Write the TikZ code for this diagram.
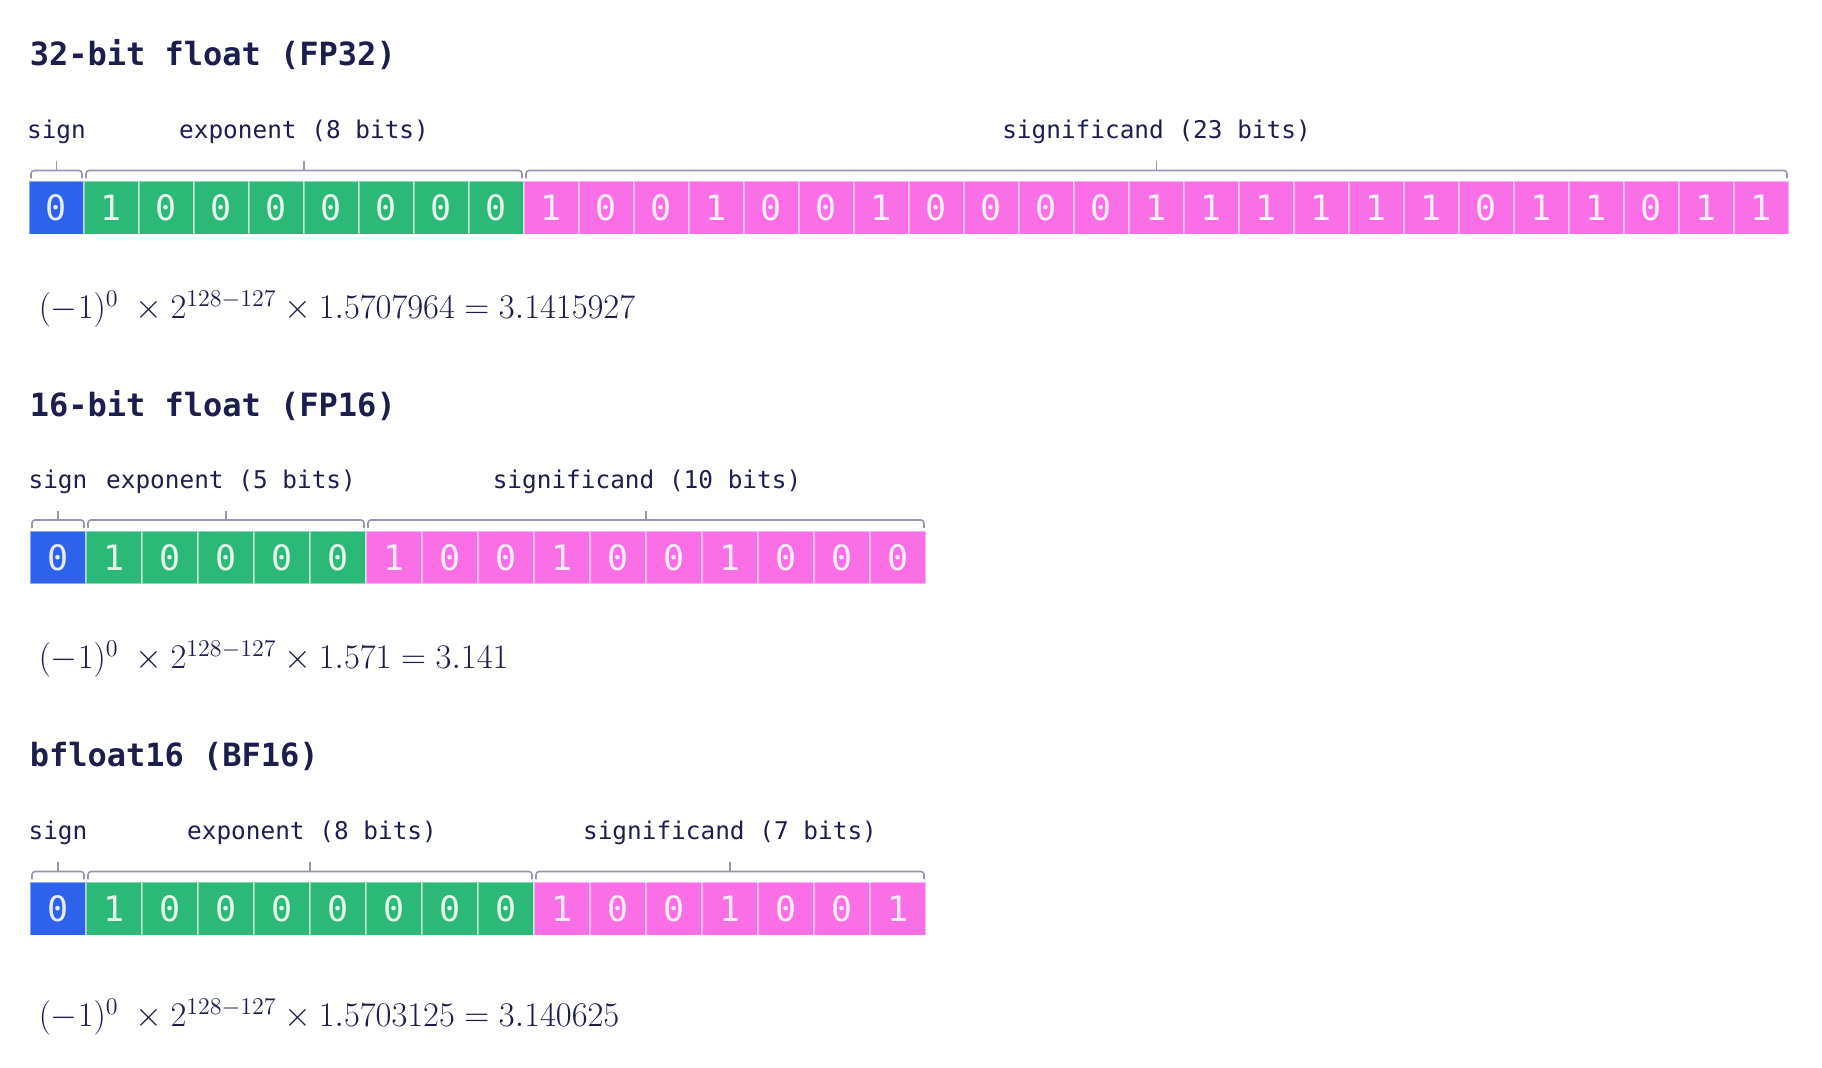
\documentclass[tikz,border=0pt]{standalone}
\usepackage{fontspec}
\usetikzlibrary{calc}
\newfontfamily\bitsfont{DejaVu Sans Mono}

\definecolor{signblue}{RGB}{46,98,235}
\definecolor{expgreen}{RGB}{44,184,118}
\definecolor{mantpink}{RGB}{250,110,230}
\definecolor{ink}{RGB}{28,30,78}
\definecolor{brkgray}{RGB}{150,152,178}

\tikzset{every picture/.style={line width=0.75pt}}
\tikzset{
  bit/.style={minimum width=28pt, minimum height=26.5pt, inner sep=0pt, outer sep=0pt, draw=white, draw opacity=0.45, line width=0.6pt, text=white, text opacity=0.88, font=\bitsfont\fontsize{17.5}{20}\selectfont},
  sgn/.style={bit, fill=signblue},
  expo/.style={bit, fill=expgreen},
  mant/.style={bit, fill=mantpink},
  brk/.style={draw=brkgray, line width=0.8pt, rounded corners=1.5pt},
  title/.style={anchor=west, inner sep=0pt, text=ink, font=\bitsfont\bfseries\fontsize{16}{19}\selectfont},
  field/.style={anchor=base, text=ink, font=\bitsfont\fontsize{12.2}{14}\selectfont},
  formula/.style={anchor=base west, inner sep=0pt, text=ink, font=\fontsize{16.8}{20}\selectfont}
}

\begin{document}
\begin{tikzpicture}[x=0.5pt,y=0.5pt,yscale=-1,xscale=1]
\fill[white] (0,0) rectangle (1822,1068);
\useasboundingbox (0,0) rectangle (1822,1068);

% FP32 
\node[title] (fp32t) at (29,55) {32-bit float (FP32)};
\begin{scope}[bit/.append style={minimum width=27.5pt}]
\node[sgn] (fp32b0) at (56.5,208) {0};
\node[expo] (fp32b1) at (111.5,208) {1};
\node[expo] (fp32b2) at (166.5,208) {0};
\node[expo] (fp32b3) at (221.5,208) {0};
\node[expo] (fp32b4) at (276.5,208) {0};
\node[expo] (fp32b5) at (331.5,208) {0};
\node[expo] (fp32b6) at (386.5,208) {0};
\node[expo] (fp32b7) at (441.5,208) {0};
\node[expo] (fp32b8) at (496.5,208) {0};
\node[mant] (fp32b9) at (551.5,208) {1};
\node[mant] (fp32b10) at (606.5,208) {0};
\node[mant] (fp32b11) at (661.5,208) {0};
\node[mant] (fp32b12) at (716.5,208) {1};
\node[mant] (fp32b13) at (771.5,208) {0};
\node[mant] (fp32b14) at (826.5,208) {0};
\node[mant] (fp32b15) at (881.5,208) {1};
\node[mant] (fp32b16) at (936.5,208) {0};
\node[mant] (fp32b17) at (991.5,208) {0};
\node[mant] (fp32b18) at (1046.5,208) {0};
\node[mant] (fp32b19) at (1101.5,208) {0};
\node[mant] (fp32b20) at (1156.5,208) {1};
\node[mant] (fp32b21) at (1211.5,208) {1};
\node[mant] (fp32b22) at (1266.5,208) {1};
\node[mant] (fp32b23) at (1321.5,208) {1};
\node[mant] (fp32b24) at (1376.5,208) {1};
\node[mant] (fp32b25) at (1431.5,208) {1};
\node[mant] (fp32b26) at (1486.5,208) {0};
\node[mant] (fp32b27) at (1541.5,208) {1};
\node[mant] (fp32b28) at (1596.5,208) {1};
\node[mant] (fp32b29) at (1651.5,208) {0};
\node[mant] (fp32b30) at (1706.5,208) {1};
\node[mant] (fp32b31) at (1761.5,208) {1};
\end{scope}

% FP32 brackets
\draw[brk] ($(fp32b0.north west)+(2,-3)$) |- ($(fp32b0.north west)!0.5!(fp32b0.north east)+(0,-11)$) coordinate (fp32sm) -| ($(fp32b0.north east)+(-2,-3)$);
\draw[brk] ($(fp32b1.north west)+(2,-3)$) |- ($(fp32b1.north west)!0.5!(fp32b8.north east)+(0,-11)$) coordinate (fp32em) -| ($(fp32b8.north east)+(-2,-3)$);
\draw[brk] ($(fp32b9.north west)+(2,-3)$) |- ($(fp32b9.north west)!0.5!(fp32b31.north east)+(0,-11)$) coordinate (fp32mm) -| ($(fp32b31.north east)+(-2,-3)$);
\draw[brk] (fp32sm) -- ++(0,-9);
\draw[brk] (fp32em) -- ++(0,-9);
\draw[brk] (fp32mm) -- ++(0,-9);

% Text Node
\node[field] (fp32sl) at (56.5,138.5) {sign};
\node[field] (fp32el) at (304,138.5) {exponent (8 bits)};
\node[field] (fp32ml) at (1156.5,138.5) {significand (23 bits)};
\node[formula] (fp32f) at (38,319) {$(-1)^0\;\times 2^{128-127}\times 1.5707964 = 3.1415927$};

% FP16 
\node[title] (fp16t) at (29,405.5) {16-bit float (FP16)};
\node[sgn] (fp16b0) at (58,557.5) {0};
\node[expo] (fp16b1) at (114,557.5) {1};
\node[expo] (fp16b2) at (170,557.5) {0};
\node[expo] (fp16b3) at (226,557.5) {0};
\node[expo] (fp16b4) at (282,557.5) {0};
\node[expo] (fp16b5) at (338,557.5) {0};
\node[mant] (fp16b6) at (394,557.5) {1};
\node[mant] (fp16b7) at (450,557.5) {0};
\node[mant] (fp16b8) at (506,557.5) {0};
\node[mant] (fp16b9) at (562,557.5) {1};
\node[mant] (fp16b10) at (618,557.5) {0};
\node[mant] (fp16b11) at (674,557.5) {0};
\node[mant] (fp16b12) at (730,557.5) {1};
\node[mant] (fp16b13) at (786,557.5) {0};
\node[mant] (fp16b14) at (842,557.5) {0};
\node[mant] (fp16b15) at (898,557.5) {0};

% FP16 brackets
\draw[brk] ($(fp16b0.north west)+(2,-3)$) |- ($(fp16b0.north west)!0.5!(fp16b0.north east)+(0,-11)$) coordinate (fp16sm) -| ($(fp16b0.north east)+(-2,-3)$);
\draw[brk] ($(fp16b1.north west)+(2,-3)$) |- ($(fp16b1.north west)!0.5!(fp16b5.north east)+(0,-11)$) coordinate (fp16em) -| ($(fp16b5.north east)+(-2,-3)$);
\draw[brk] ($(fp16b6.north west)+(2,-3)$) |- ($(fp16b6.north west)!0.5!(fp16b15.north east)+(0,-11)$) coordinate (fp16mm) -| ($(fp16b15.north east)+(-2,-3)$);
\draw[brk] (fp16sm) -- ++(0,-9);
\draw[brk] (fp16em) -- ++(0,-9);
\draw[brk] (fp16mm) -- ++(0,-9);

% Text Node
\node[field] (fp16sl) at (58,489) {sign};
\node[field] (fp16el) at (231,489) {exponent (5 bits)};
\node[field] (fp16ml) at (647,489) {significand (10 bits)};
\node[formula] (fp16f) at (38,669) {$(-1)^0\;\times 2^{128-127}\times 1.571 = 3.141$};

% BF16 
\node[title] (bf16t) at (29,756) {bfloat16 (BF16)};
\node[sgn] (bf16b0) at (58,909) {0};
\node[expo] (bf16b1) at (114,909) {1};
\node[expo] (bf16b2) at (170,909) {0};
\node[expo] (bf16b3) at (226,909) {0};
\node[expo] (bf16b4) at (282,909) {0};
\node[expo] (bf16b5) at (338,909) {0};
\node[expo] (bf16b6) at (394,909) {0};
\node[expo] (bf16b7) at (450,909) {0};
\node[expo] (bf16b8) at (506,909) {0};
\node[mant] (bf16b9) at (562,909) {1};
\node[mant] (bf16b10) at (618,909) {0};
\node[mant] (bf16b11) at (674,909) {0};
\node[mant] (bf16b12) at (730,909) {1};
\node[mant] (bf16b13) at (786,909) {0};
\node[mant] (bf16b14) at (842,909) {0};
\node[mant] (bf16b15) at (898,909) {1};

% BF16 brackets
\draw[brk] ($(bf16b0.north west)+(2,-3)$) |- ($(bf16b0.north west)!0.5!(bf16b0.north east)+(0,-11)$) coordinate (bf16sm) -| ($(bf16b0.north east)+(-2,-3)$);
\draw[brk] ($(bf16b1.north west)+(2,-3)$) |- ($(bf16b1.north west)!0.5!(bf16b8.north east)+(0,-11)$) coordinate (bf16em) -| ($(bf16b8.north east)+(-2,-3)$);
\draw[brk] ($(bf16b9.north west)+(2,-3)$) |- ($(bf16b9.north west)!0.5!(bf16b15.north east)+(0,-11)$) coordinate (bf16mm) -| ($(bf16b15.north east)+(-2,-3)$);
\draw[brk] (bf16sm) -- ++(0,-9);
\draw[brk] (bf16em) -- ++(0,-9);
\draw[brk] (bf16mm) -- ++(0,-9);

% Text Node
\node[field] (bf16sl) at (58,840) {sign};
\node[field] (bf16el) at (312,840) {exponent (8 bits)};
\node[field] (bf16ml) at (730,840) {significand (7 bits)};
\node[formula] (bf16f) at (38,1027) {$(-1)^0\;\times 2^{128-127}\times 1.5703125 = 3.140625$};

\end{tikzpicture}
\end{document}
